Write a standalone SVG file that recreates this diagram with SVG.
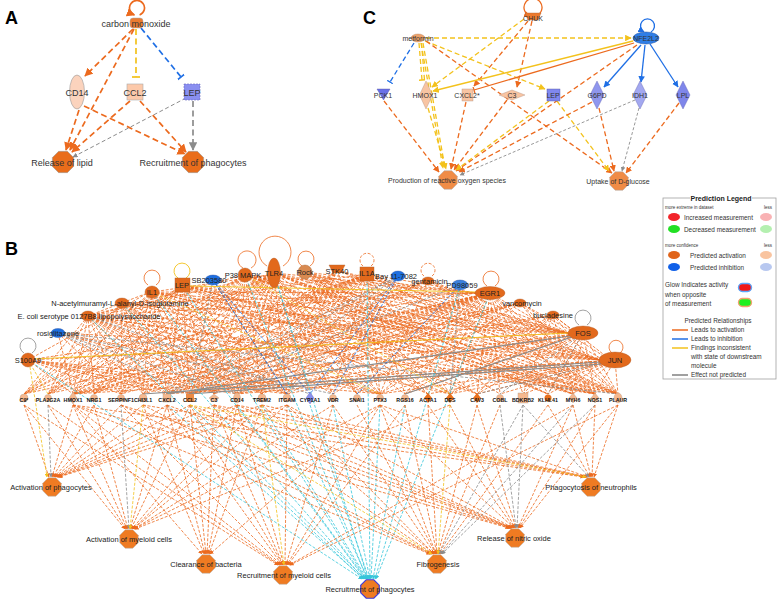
<svg xmlns="http://www.w3.org/2000/svg" xmlns:xlink="http://www.w3.org/1999/xlink" width="778" height="600" viewBox="0 0 778 600">
<style>
text{font-family:"Liberation Sans",Arial,sans-serif;fill:#222}
.e,.e path{fill:none}
.o{stroke:#ec6a1e}.g{stroke:#8c8c8c}.y{stroke:#f3c21c}.b{stroke:#1f6fe5}.c{stroke:#36c6da}
.d{stroke-dasharray:3 1.6}.w{stroke-width:0.8}
.A{stroke-width:1.7;stroke-dasharray:6 3.5}
.C{stroke-width:1.3;stroke-dasharray:5 3}
.mo{marker-end:url(#ao)}.mg{marker-end:url(#ag)}.my{marker-end:url(#ay)}.mb{marker-end:url(#ab)}.mc{marker-end:url(#ac)}
.xo{marker-end:url(#bo)}.xy{marker-end:url(#by)}.xb{marker-end:url(#bb)}
.big{font-size:18px;font-weight:bold;fill:#000}
.la{font-size:9px;fill:#333;text-anchor:middle}
.lc{font-size:7px;fill:#333;text-anchor:middle}
.lb{font-size:7.5px;text-anchor:middle}
.lm{font-size:5.3px;font-weight:bold;fill:#111;text-anchor:middle}
.lg{font-size:6.4px;fill:#333}
.ls{font-size:4.5px;fill:#333}
.fn{fill:#ef7b22;stroke:#b0b0b0;stroke-width:0.5}
.nd{fill:#e2691c;stroke:#b06030;stroke-width:0.4}
.pe{fill:#f6b88e;stroke:#b0a090;stroke-width:0.4}
.bl{fill:#1d6fe0;stroke:#3050a0;stroke-width:0.4}
.lb2{fill:#8a90ee;stroke:#7070b0;stroke-width:0.4}
</style>
<defs>
<marker id="ao" viewBox="0 0 10 10" refX="9" refY="5" markerWidth="5" markerHeight="5" orient="auto"><path d="M0 0L10 5L0 10z" fill="#ec6a1e"/></marker>
<marker id="ag" viewBox="0 0 10 10" refX="9" refY="5" markerWidth="5" markerHeight="5" orient="auto"><path d="M0 0L10 5L0 10z" fill="#8c8c8c"/></marker>
<marker id="ay" viewBox="0 0 10 10" refX="9" refY="5" markerWidth="5" markerHeight="5" orient="auto"><path d="M0 0L10 5L0 10z" fill="#f3c21c"/></marker>
<marker id="ab" viewBox="0 0 10 10" refX="9" refY="5" markerWidth="5" markerHeight="5" orient="auto"><path d="M0 0L10 5L0 10z" fill="#1f6fe5"/></marker>
<marker id="ac" viewBox="0 0 10 10" refX="9" refY="5" markerWidth="5" markerHeight="5" orient="auto"><path d="M0 0L10 5L0 10z" fill="#36c6da"/></marker>
<marker id="bo" viewBox="0 0 4 10" refX="3" refY="5" markerWidth="2.5" markerHeight="5" orient="auto"><path d="M3 0V10" stroke="#ec6a1e" stroke-width="2"/></marker>
<marker id="by" viewBox="0 0 4 10" refX="3" refY="5" markerWidth="2.5" markerHeight="5" orient="auto"><path d="M3 0V10" stroke="#f3c21c" stroke-width="2"/></marker>
<marker id="bb" viewBox="0 0 4 10" refX="3" refY="5" markerWidth="2.5" markerHeight="5" orient="auto"><path d="M3 0V10" stroke="#1f6fe5" stroke-width="2"/></marker>
<polygon id="oct" points="9.24,3.83 3.83,9.24 -3.83,9.24 -9.24,3.83 -9.24,-3.83 -3.83,-9.24 3.83,-9.24 9.24,-3.83"/>
</defs>
<rect width="778" height="600" fill="#fff"/>

<text class="big" x="5" y="24">A</text>
<text class="big" x="363" y="24">C</text>
<text class="big" x="5" y="255">B</text>

<!-- ================= PANEL A ================= -->
<g id="A-connectors" class="e">
<path class="o A mo" d="M133 29L85 76"/>
<path class="o A mo" d="M134 29L70 150"/>
<path class="o A mo" d="M79 110L66 150"/>
<path class="o A mo" d="M84 106L185 154"/>
<path class="o A mo" d="M130 101L72 152"/>
<path class="o A mo" d="M140 101L186 152"/>
<path class="y A xy" d="M136 29L136 77"/>
<path class="b A xb" d="M141 28L181 77"/>
<path class="g mg" stroke-width="1" stroke-dasharray="4 2.5" d="M186 98L73 157"/>
<path class="g A mg" stroke-width="1.3" d="M193 101L193 150"/>
<path class="o mo" stroke-width="1.7" d="M139.6 15A7.5 7.5 0 1 0 134.4 15"/>
</g>
<g id="A-carbon-monoxide"><rect x="130" y="18" width="13" height="10" rx="3" fill="#ea7b30" stroke="#aaa" stroke-width="0.5"/><text class="la" x="136" y="26.5">carbon monoxide</text></g>
<g id="A-CD14"><ellipse cx="77" cy="92" rx="7.5" ry="17" fill="#fbd3bd" stroke="#999" stroke-width="0.6"/><text class="la" x="77" y="95.5">CD14</text></g>
<g id="A-CCL2"><rect x="127" y="84" width="16" height="16" fill="#fcc9aa" stroke="#aaa" stroke-width="0.6"/><text class="la" x="135" y="95.5">CCL2</text></g>
<g id="A-LEP"><rect x="184" y="84" width="16" height="16" fill="#8a8ff0" stroke="#6a6ac0" stroke-width="0.6" stroke-dasharray="2 1"/><text class="la" x="192" y="95.5">LEP</text></g>
<g id="A-release-lipid"><use href="#oct" transform="translate(63 162) scale(1.15)" fill="#e96d1b" stroke="#999" stroke-width="0.5"/><text class="la" x="62" y="166">Release of lipid</text></g>
<g id="A-recruitment-phagocytes"><use href="#oct" transform="translate(193 162) scale(1.15)" fill="#e96d1b" stroke="#999" stroke-width="0.5"/><text class="la" x="193" y="166">Recruitment of phagocytes</text></g>

<!-- ================= PANEL C ================= -->
<g id="C-connectors" class="e">
<path class="o C mo" d="M528 21L474 86"/>
<path class="o C mo" d="M532 21L517 87"/>
<path class="y C my" d="M524 19L432 87"/>
<path class="y C my" d="M426 38L631 38"/>
<path class="b C xb" d="M414 43L390 82"/>
<path class="y C xy" d="M419 43L422 80"/>
<path class="y C" d="M421.5 43L424.5 80"/>
<path class="y C my" d="M421 43L443 168"/>
<path class="y C" d="M423 43L445 168"/>
<path class="y C my" d="M425 41L545 89"/>
<path class="o C mo" d="M426 41L612 173"/>
<path class="y" stroke-width="1.3" d="M633 41L433 91" marker-end="url(#ay)"/>
<path class="o xo" stroke-width="1.3" d="M634 43L474 90"/>
<path class="o C mo" d="M637 45L456 171"/>
<path class="b mb" stroke-width="1.3" d="M641 45L604 87"/>
<path class="b mb" stroke-width="1.3" d="M645 45L641 82"/>
<path class="b mb" stroke-width="1.3" d="M650 44L678 87"/>
<path class="o C mo" d="M384 101L439 172"/>
<path class="y C my" d="M428 108L446 169"/>
<path class="o C mo" d="M466 102L451 169"/>
<path class="o C mo" d="M507 100L454 170"/>
<path class="y C my" d="M549 101L456 170"/>
<path class="y C my" d="M557 101L609 171"/>
<path class="o C mo" d="M592 102L459 172"/>
<path class="o C mo" d="M599 108L614 171"/>
<path class="g mg" stroke-width="0.9" stroke-dasharray="3 2" d="M635 100L460 175"/>
<path class="g mg" stroke-width="0.9" stroke-dasharray="3 2" d="M639 108L622 171"/>
<path class="o C mo" d="M679 103L626 173"/>
<path class="o mo" stroke-width="1.3" d="M536 16A9 9 0 1 0 530 16"/>
<path class="b mb" stroke-width="1.3" d="M651 32A7 7 0 1 0 644 32"/>
</g>
<g id="C-CHUK"><path d="M525 13H541L538 20H528Z" fill="#ec7a2e" stroke="#b06030" stroke-width="0.4"/><text class="lc" x="533" y="21">CHUK</text></g>
<g id="C-metformin"><ellipse cx="418" cy="38" rx="7" ry="4" fill="#eea26a" stroke="#b08060" stroke-width="0.4"/><text class="lc" x="418" y="40.5">metformin</text></g>
<g id="C-NFE2L2"><ellipse cx="646" cy="38" rx="13" ry="6" fill="#2f7ee6" stroke="#2050a0" stroke-width="0.5"/><text class="lc" x="646" y="40.5">NFE2L2</text></g>
<g id="C-PCK1"><path d="M377 89H390L383.5 100Z" fill="#6a70e8" stroke="#5050a0" stroke-width="0.4"/><text class="lc" x="383" y="97.5">PCK1</text></g>
<g id="C-HMOX1"><path d="M426 81L432.5 95L426 109L419.5 95Z" fill="#f8c4a2" stroke="#b09080" stroke-width="0.4"/><text class="lc" x="425" y="97.5">HMOX1</text></g>
<g id="C-CXCL2"><rect x="462" y="89" width="11" height="12" fill="#f8c4a2" stroke="#b09080" stroke-width="0.4"/><text class="lc" x="467" y="97.5">CXCL2*</text></g>
<g id="C-C3"><path d="M499 95L512 90L525 95L512 100Z" fill="#f8c4a2" stroke="#b09080" stroke-width="0.4"/><text class="lc" x="512" y="97.5">C3</text></g>
<g id="C-LEP"><rect x="547" y="89" width="13" height="12" fill="#8088ee" stroke="#5050a0" stroke-width="0.4"/><text class="lc" x="553" y="97.5">LEP</text></g>
<g id="C-G6PD"><path d="M597 81L604 95L597 109L590 95Z" fill="#8f96ee" stroke="#6060b0" stroke-width="0.4"/><text class="lc" x="597" y="97.5">G6PD</text></g>
<g id="C-IDH1"><path d="M640 81L647 95L640 109L633 95Z" fill="#a3a8f0" stroke="#6060b0" stroke-width="0.4"/><text class="lc" x="640" y="97.5">IDH1</text></g>
<g id="C-LPL"><path d="M683 81L690 95L683 109L676 95Z" fill="#7f86ea" stroke="#6060b0" stroke-width="0.4"/><text class="lc" x="683" y="97.5">LPL</text></g>
<g id="C-ROS"><use href="#oct" x="448" y="180" fill="#f08c46" stroke="#aaa" stroke-width="0.5"/><text class="lc" x="447" y="183">Production of reactive oxygen species</text></g>
<g id="C-glucose"><use href="#oct" x="619" y="181" fill="#f08c46" stroke="#aaa" stroke-width="0.5"/><text class="lc" x="618" y="184">Uptake of D-glucose</text></g>

<!-- ================= LEGEND ================= -->
<g id="legend">
<rect x="663" y="198" width="113" height="181" fill="#fff" stroke="#a0a0a0" stroke-width="0.8"/>
<rect x="690" y="194" width="62" height="8" fill="#fff"/>
<text x="721" y="200.5" font-size="7" font-weight="bold" text-anchor="middle">Prediction Legend</text>
<text class="ls" x="665" y="209">more extreme in dataset</text><text class="ls" x="764" y="209">less</text>
<ellipse cx="674" cy="217" rx="6" ry="4" fill="#f2242a"/><text class="lg" x="684" y="219.5">Increased measurement</text><ellipse cx="766" cy="217" rx="6" ry="4" fill="#f9b2b4"/>
<ellipse cx="674" cy="229" rx="6" ry="4" fill="#22e024"/><text class="lg" x="684" y="231.5">Decreased measurement</text><ellipse cx="766" cy="229" rx="6" ry="4" fill="#b4f0b0"/>
<text class="ls" x="665" y="247">more confidence</text><text class="ls" x="764" y="247">less</text>
<ellipse cx="674" cy="255" rx="6" ry="4" fill="#e0641a"/><text class="lg" x="690" y="257.5">Predicted activation</text><ellipse cx="766" cy="255" rx="6" ry="4" fill="#f9c4a0"/>
<ellipse cx="674" cy="267" rx="6" ry="4" fill="#1060e8"/><text class="lg" x="690" y="269.5">Predicted inhibition</text><ellipse cx="766" cy="267" rx="6" ry="4" fill="#b8c8f0"/>
<text class="lg" x="665" y="287">Glow Indicates activity</text>
<text class="lg" x="665" y="296.5">when opposite</text>
<text class="lg" x="665" y="306">of measurement</text>
<rect x="738.5" y="283.5" width="13" height="8" rx="4" fill="#f01818" stroke="#5aa8ff" stroke-width="1.4"/>
<rect x="738.5" y="298.5" width="13" height="8" rx="4" fill="#20f020" stroke="#f5a070" stroke-width="1.4"/>
<text class="lg" x="718" y="323" text-anchor="middle">Predicted Relationships</text>
<path d="M672 330H688" stroke="#ec6a1e" stroke-width="1.5"/><text class="lg" x="691" y="332">Leads to activation</text>
<path d="M672 339H688" stroke="#1f6fe5" stroke-width="1.5"/><text class="lg" x="691" y="341">Leads to inhibition</text>
<path d="M672 348H688" stroke="#f3c21c" stroke-width="1.5"/><text class="lg" x="691" y="350">Findings inconsistent</text>
<text class="lg" x="691" y="359">with state of downstream</text>
<text class="lg" x="691" y="368">molecule</text>
<path d="M672 375H688" stroke="#808080" stroke-width="1.5"/><text class="lg" x="691" y="377">Effect not predicted</text>
</g>

<!-- ================= PANEL B ================= -->
<g id="B-connectors" class="e">
<g class="o d w">
<path d="M28 360L73 394M28 360L167 394M28 360L190 394M28 360L237 394M28 360L287 394M28 360L121 394M28 360L380 394"/>
<path d="M58 333L73 394M58 333L121 394M58 333L167 394M58 333L287 394M58 333L380 394"/>
<path d="M88 316L24 394M88 316L48 394M88 316L73 394M88 316L94 394M88 316L121 394M88 316L143 394M88 316L167 394M88 316L190 394M88 316L214 394M88 316L237 394M88 316L262 394M88 316L287 394M88 316L380 394M88 316L450 394M88 316L595 394M88 316L618 394"/>
<path d="M122 303L73 394M122 303L167 394M122 303L190 394M122 303L237 394M122 303L262 394M122 303L287 394M122 303L24 394M122 303L48 394M122 303L121 394M122 303L143 394M122 303L214 394M122 303L380 394M122 303L595 394"/>
<path d="M152 292L24 394M152 292L48 394M152 292L73 394M152 292L143 394M152 292L167 394M152 292L190 394M152 292L214 394M152 292L237 394M152 292L595 394M152 292L618 394M152 292L94 394M152 292L121 394M152 292L262 394M152 292L287 394M152 292L333 394M152 292L450 394"/>
<path d="M182 285L73 394M182 285L94 394M182 285L121 394M182 285L190 394M182 285L237 394M182 285L262 394M182 285L287 394M182 285L428 394M182 285L477 394M182 285L573 394M182 285L24 394M182 285L48 394M182 285L167 394M182 285L214 394M182 285L380 394M182 285L595 394M182 285L618 394"/>
<path d="M245 275L73 394M245 275L94 394M245 275L143 394M245 275L167 394M245 275L190 394M245 275L214 394M245 275L237 394M245 275L262 394M245 275L357 394M245 275L380 394M245 275L548 394M245 275L595 394M245 275L618 394M245 275L24 394M245 275L48 394M245 275L121 394M245 275L287 394M245 275L333 394M245 275L405 394M245 275L428 394M245 275L477 394M245 275L573 394"/>
<path d="M274 273L24 394M274 273L48 394M274 273L73 394M274 273L121 394M274 273L143 394M274 273L167 394M274 273L190 394M274 273L214 394M274 273L237 394M274 273L262 394M274 273L287 394M274 273L333 394M274 273L380 394M274 273L573 394M274 273L595 394M274 273L618 394M274 273L94 394M274 273L357 394M274 273L450 394M274 273L548 394"/>
<path d="M305 272L357 394M305 272L428 394M305 272L450 394M305 272L477 394M305 272L500 394M305 272L548 394M305 272L573 394M305 272L190 394M305 272L618 394"/>
<path d="M337 270L167 394M337 270L190 394M337 270L214 394M337 270L237 394M337 270L262 394M337 270L287 394M337 270L380 394M337 270L618 394"/>
<path d="M367 274L48 394M367 274L73 394M367 274L121 394M367 274L167 394M367 274L190 394M367 274L214 394M367 274L237 394M367 274L287 394M367 274L380 394M367 274L595 394M367 274L618 394M367 274L24 394M367 274L94 394M367 274L143 394M367 274L262 394M367 274L333 394M367 274L405 394M367 274L450 394"/>
<path d="M428 280L190 394M428 280L595 394M428 280L73 394M428 280L167 394M428 280L237 394M428 280L618 394M428 280L380 394M520 303L190 394M520 303L595 394M520 303L73 394M520 303L167 394M520 303L237 394M520 303L380 394M520 303L618 394M553 315L477 394M553 315L573 394M553 315L405 394M553 315L450 394M553 315L523 394M553 315L618 394M553 315L190 394M553 315L73 394"/>
<path d="M490 293L73 394M490 293L121 394M490 293L167 394M490 293L190 394M490 293L237 394M490 293L262 394M490 293L287 394M490 293L333 394M490 293L357 394M490 293L380 394M490 293L405 394M490 293L428 394M490 293L450 394M490 293L477 394M490 293L500 394M490 293L523 394M490 293L548 394M490 293L573 394M490 293L595 394M490 293L618 394M490 293L24 394M490 293L48 394M490 293L143 394M490 293L214 394"/>
<path d="M583 333L405 394M583 333L450 394M583 333L477 394M583 333L523 394M583 333L548 394M583 333L573 394M583 333L595 394M583 333L618 394M583 333L73 394M583 333L190 394M583 333L237 394M583 333L287 394M583 333L380 394"/>
<path d="M615 360L450 394M615 360L477 394M615 360L500 394M615 360L523 394M615 360L548 394M615 360L573 394M615 360L595 394M615 360L618 394M615 360L73 394M615 360L167 394M615 360L237 394M615 360L380 394M615 360L428 394"/>
<path d="M88 316L476 293M88 316L568 333M88 316L600 360M88 316L268 275M88 316L145 294M88 316L360 275M152 292L568 333M152 292L600 360M152 292L476 293M245 275L476 293M245 275L568 333M245 275L600 360M274 273L476 293M274 273L568 333M274 273L600 360M367 274L476 293M367 274L568 333M367 274L600 360M428 280L568 333M520 303L570 330M520 303L602 355M553 315L570 328M553 315L603 354M305 272L568 333M305 272L600 360M337 270L600 360M28 360L476 293M122 303L568 333M490 293L600 358M28 360L146 294M122 303L476 293M122 303L600 360M182 285L568 333M182 285L600 360M337 270L568 333M305 272L476 293M428 280L600 360M88 316L240 276M152 292L268 275M58 333L600 360M28 360L568 333"/>
</g>
<path class="o" stroke-width="0.8" d="M156 285A8 8 0 1 0 148 285M251 268A9 9 0 1 0 243 268M283 266A16 16 0 1 0 267 266M310 266A8 8 0 1 0 302 266M495 286A8 8 0 1 0 487 286M620 353A7 7 0 1 0 612 353"/>
<path class="o d" stroke-width="0.8" d="M371 266A7 7 0 1 0 363 266M432 276A7 7 0 1 0 424 276"/>
<g class="g d w">
<path d="M58 333L190 394M58 333L237 394M58 333L333 394M58 333L618 394M213 280L190 394M213 280L287 394M460 285L190 394M460 285L450 394M398 276L167 394M398 276L237 394M88 316L310 394M274 273L310 394M583 333L500 394M583 333L548 394M615 360L477 394M398 276L190 394M398 276L287 394"/>
</g>
<path class="g" stroke-width="0.8" d="M32 353A8 8 0 1 0 24 353M587 325A8 8 0 1 0 579 325"/>
<path class="g" stroke-width="1.2" d="M570 336L167 394M600 362L143 394M572 337L405 394M601 364L190 394"/>
<path class="b d w" d="M213 280L310 394M213 280L287 394M398 276L310 394M398 276L333 394M460 285L357 394"/>
<path class="y" stroke-width="0.9" d="M34 359L568 333M190 286L476 292M186 278A8 8 0 1 0 178 278"/>
<path class="y d w" d="M28 360L48 394M152 292L380 394M245 275L450 394"/>
<g class="c d w mc">
<path d="M28 360L362 579"/><path d="M88 316L363 579"/><path d="M122 303L364 579"/><path d="M152 292L365 579"/><path d="M182 285L366 579"/><path d="M245 275L367 579"/><path d="M274 273L368 579"/><path d="M367 274L370 579"/><path d="M460 285L375 579"/><path d="M490 293L376 579"/>
<path d="M167 405L364 579"/><path d="M190 405L365 579"/><path d="M237 405L366 579"/><path d="M262 405L367 579"/><path d="M287 405L368 579"/><path d="M310 405L369 579"/><path d="M333 405L370 579"/><path d="M380 405L371 579"/><path d="M405 405L373 579"/>
</g>
<g class="o d w mo">
<path d="M24 405L49 477"/><path d="M73 405L52 477"/><path d="M94 405L53 477"/><path d="M121 405L54 477"/><path d="M143 405L55 477"/><path d="M167 405L56 477"/><path d="M190 405L57 477"/><path d="M214 405L57 477"/><path d="M237 405L58 477"/><path d="M262 405L58 477"/><path d="M287 405L59 477"/>
<path d="M24 405L125 529"/><path d="M48 405L126 529"/><path d="M73 405L127 529"/><path d="M94 405L128 529"/><path d="M167 405L130 529"/><path d="M190 405L131 529"/><path d="M237 405L132 529"/><path d="M262 405L133 529"/><path d="M287 405L133 529"/><path d="M333 405L134 529"/><path d="M380 405L134 529"/><path d="M450 405L135 529"/>
<path d="M73 405L202 554"/><path d="M143 405L204 554"/><path d="M167 405L205 554"/><path d="M190 405L206 554"/><path d="M214 405L207 554"/><path d="M237 405L208 554"/><path d="M262 405L209 554"/><path d="M380 405L210 554"/>
<path d="M24 405L278 565"/><path d="M48 405L279 565"/><path d="M73 405L280 565"/><path d="M121 405L281 565"/><path d="M167 405L282 565"/><path d="M190 405L283 565"/><path d="M214 405L283 565"/><path d="M237 405L284 565"/><path d="M287 405L285 565"/><path d="M333 405L286 565"/><path d="M380 405L287 565"/><path d="M405 405L288 565"/><path d="M573 405L289 565"/><path d="M618 405L290 565"/>
<path d="M73 405L430 554"/><path d="M121 405L431 554"/><path d="M143 405L432 554"/><path d="M214 405L433 554"/><path d="M262 405L434 554"/><path d="M287 405L434 554"/><path d="M333 405L435 554"/><path d="M357 405L436 554"/><path d="M380 405L436 554"/><path d="M405 405L437 554"/><path d="M428 405L437 554"/><path d="M477 405L438 554"/><path d="M500 405L439 554"/><path d="M548 405L440 554"/>
<path d="M73 405L509 528"/><path d="M121 405L510 528"/><path d="M167 405L511 528"/><path d="M190 405L511 528"/><path d="M214 405L512 528"/><path d="M237 405L512 528"/><path d="M287 405L513 528"/><path d="M380 405L514 528"/><path d="M428 405L514 528"/><path d="M450 405L515 528"/><path d="M477 405L516 528"/><path d="M573 405L518 528"/><path d="M595 405L519 528"/><path d="M618 405L520 528"/>
<path d="M73 405L584 477"/><path d="M143 405L585 477"/><path d="M214 405L586 477"/><path d="M237 405L586 477"/><path d="M262 405L587 477"/><path d="M380 405L588 477"/><path d="M548 405L590 477"/><path d="M573 405L591 477"/><path d="M595 405L592 477"/><path d="M618 405L594 477"/>
</g>
<g class="g d w mg">
<path d="M48 405L51 477"/><path d="M121 405L129 529"/><path d="M523 405L439 554"/><path d="M573 405L441 554"/><path d="M595 405L442 554"/><path d="M500 405L516 528"/><path d="M523 405L517 528"/><path d="M523 405L589 477"/>
</g>
<g class="y d w my">
<path d="M30 367L47 477"/><path d="M143 405L130 529"/><path d="M262 405L284 565"/><path d="M450 405L438 554"/><path d="M190 405L432 554"/><path d="M190 405L586 477"/>
</g>
</g>

<g id="B-S100A9"><circle cx="28" cy="360" r="7" class="nd"/><text class="lb" x="28" y="363">S100A9</text></g>
<g id="B-rosiglitazone"><ellipse cx="58" cy="333" rx="7" ry="4.5" class="bl"/><text class="lb" x="58" y="335.5">rosiglitazone</text></g>
<g id="B-ecoli-lps"><ellipse cx="88" cy="316" rx="7" ry="5" class="nd"/><text class="lb" x="89" y="318.5">E. coli serotype 0127B8 lipopolysaccharide</text></g>
<g id="B-n-acetyl"><ellipse cx="122" cy="303" rx="7" ry="5" class="nd"/><text class="lb" x="120" y="305.5">N-acetylmuramyl-L-alanyl-D-isoglutamine</text></g>
<g id="B-IL1"><ellipse cx="152" cy="292" rx="7" ry="6" class="nd"/><text class="lb" x="152" y="295">IL1</text></g>
<g id="B-LEP"><rect x="175" y="278" width="15" height="14" class="nd"/><text class="lb" x="182" y="288">LEP</text></g>
<g id="B-SB203580"><ellipse cx="213" cy="280" rx="8" ry="5" class="bl"/><text class="lb" x="209" y="282.5">SB203580</text></g>
<g id="B-P38MAPK"><circle cx="245" cy="275" r="7" class="nd"/><text class="lb" x="243" y="278">P38 MAPK</text></g>
<g id="B-TLR4"><ellipse cx="274" cy="273" rx="6.5" ry="15" class="nd"/><text class="lb" x="274" y="276">TLR4</text></g>
<g id="B-Rock"><circle cx="305" cy="272" r="7" fill="#d98a50" stroke="#a06030" stroke-width="0.4"/><text class="lb" x="305" y="275">Rock</text></g>
<g id="B-STK40"><path d="M329 265H345L341 273H333Z" class="nd"/><text class="lb" x="337" y="274">STK40</text></g>
<g id="B-IL1A"><rect x="360" y="267" width="14" height="14" class="nd"/><text class="lb" x="367" y="276">IL1A</text></g>
<g id="B-Bay"><ellipse cx="398" cy="276" rx="7" ry="5" class="bl"/><text class="lb" x="396" y="279" font-size="6.5">Bay 11-7082</text></g>
<g id="B-gentamicin"><ellipse cx="428" cy="281" rx="6" ry="4" class="nd"/><text class="lb" x="429.5" y="283.5" font-size="6.5">gentamicin</text></g>
<g id="B-PD98059"><ellipse cx="460" cy="285" rx="8" ry="5" fill="#3a80dc" stroke="#3050a0" stroke-width="0.4"/><text class="lb" x="462" y="288" font-size="7">PD98059</text></g>
<g id="B-EGR1"><ellipse cx="490" cy="293" rx="15" ry="6.5" class="nd"/><text class="lb" x="490" y="296">EGR1</text></g>
<g id="B-vancomycin"><ellipse cx="520" cy="303" rx="6" ry="4" class="nd"/><text class="lb" x="522" y="305.5">vancomycin</text></g>
<g id="B-bucladesine"><ellipse cx="553" cy="315" rx="6" ry="4" class="nd"/><text class="lb" x="553" y="318">bucladesine</text></g>
<g id="B-FOS"><ellipse cx="583" cy="333" rx="15" ry="7" class="nd"/><text class="lb" x="583" y="336">FOS</text></g>
<g id="B-JUN"><ellipse cx="615" cy="360" rx="16" ry="8" class="nd"/><text class="lb" x="615" y="363">JUN</text></g>

<g id="B-C9"><circle cx="24" cy="398" r="4" class="pe"/><text class="lm" x="24" y="402">C9*</text></g>
<g id="B-PLA2G2A"><circle cx="48" cy="398" r="3.5" class="pe"/><text class="lm" x="48" y="402">PLA2G2A</text></g>
<g id="B-HMOX1"><path d="M73 392L77 398L73 404L69 398Z" class="pe"/><text class="lm" x="73" y="402">HMOX1</text></g>
<g id="B-NRG1"><circle cx="94" cy="398" r="3.5" class="pe"/><text class="lm" x="94" y="402">NRG1</text></g>
<g id="B-SERPINF1"><circle cx="121" cy="398" r="3.5" class="pe"/><text class="lm" x="121" y="402">SERPINF1</text></g>
<g id="B-CHI3L1"><circle cx="143" cy="398" r="4" class="pe"/><text class="lm" x="143" y="402">CHI3L1</text></g>
<g id="B-CXCL2"><rect x="163" y="394" width="8" height="8" class="pe"/><text class="lm" x="167" y="402">CXCL2</text></g>
<g id="B-CCL2"><rect x="186" y="394" width="8" height="8" fill="#ec8a44"/><text class="lm" x="190" y="402">CCL2</text></g>
<g id="B-C3"><path d="M214 394L219 398L214 402L209 398Z" class="pe"/><text class="lm" x="214" y="402">C3</text></g>
<g id="B-CD14"><ellipse cx="237" cy="398" rx="3.5" ry="5" class="pe"/><text class="lm" x="237" y="402">CD14</text></g>
<g id="B-TREM2"><circle cx="262" cy="398" r="4" class="pe"/><text class="lm" x="262" y="402">TREM2</text></g>
<g id="B-ITGAM"><circle cx="287" cy="398" r="4" class="pe"/><text class="lm" x="287" y="402">ITGAM</text></g>
<g id="B-CYP1A1"><path d="M310 392L314 398L310 404L306 398Z" class="lb2"/><text class="lm" x="310" y="402">CYP1A1</text></g>
<g id="B-VDR"><circle cx="333" cy="398" r="3.5" class="pe"/><text class="lm" x="333" y="402">VDR</text></g>
<g id="B-SNAI1"><circle cx="357" cy="398" r="3.5" class="pe"/><text class="lm" x="357" y="402">SNAI1</text></g>
<g id="B-PTX3"><circle cx="380" cy="398" r="3.5" class="pe"/><text class="lm" x="380" y="402">PTX3</text></g>
<g id="B-RGS16"><circle cx="405" cy="398" r="3.5" class="pe"/><text class="lm" x="405" y="402">RGS16</text></g>
<g id="B-ACTA1"><path d="M428 393L432 398L428 403L424 398Z" fill="#e8701e"/><text class="lm" x="428" y="402">ACTA1</text></g>
<g id="B-DES"><path d="M450 393L454 398L450 403L446 398Z" fill="#e8701e"/><text class="lm" x="450" y="402">DES</text></g>
<g id="B-CAV3"><path d="M477 393L481 398L477 403L473 398Z" fill="#e8701e"/><text class="lm" x="477" y="402">CAV3</text></g>
<g id="B-COBL"><circle cx="500" cy="398" r="3.5" class="pe"/><text class="lm" x="500" y="402">COBL</text></g>
<g id="B-BDKRB2"><rect x="518" y="393" width="10" height="10" class="pe"/><text class="lm" x="523" y="402">BDKRB2</text></g>
<g id="B-KLHL41"><circle cx="548" cy="398" r="3.5" fill="#e8701e"/><text class="lm" x="548" y="402">KLHL41</text></g>
<g id="B-MYH6"><path d="M573 393L577 398L573 403L569 398Z" class="pe"/><text class="lm" x="573" y="402">MYH6</text></g>
<g id="B-NOS1"><path d="M595 393L599 398L595 403L591 398Z" class="pe"/><text class="lm" x="595" y="402">NOS1</text></g>
<g id="B-PLAUR"><ellipse cx="618" cy="398" rx="4" ry="5" class="pe"/><text class="lm" x="618" y="402">PLAUR</text></g>

<g id="B-activation-phagocytes"><use href="#oct" x="52" y="487" class="fn"/><text class="lb" x="51" y="490">Activation of phagocytes</text></g>
<g id="B-activation-myeloid"><use href="#oct" x="129" y="539" class="fn"/><text class="lb" x="129" y="542">Activation of myeloid cells</text></g>
<g id="B-clearance-bacteria"><use href="#oct" x="206" y="564" class="fn"/><text class="lb" x="206" y="567">Clearance of bacteria</text></g>
<g id="B-recruitment-myeloid"><use href="#oct" x="283" y="575" class="fn"/><text class="lb" x="284" y="578">Recruitment of myeloid cells</text></g>
<g id="B-recruitment-phagocytes"><use href="#oct" x="370" y="589" fill="#ef7b22" stroke="#3a3ae0" stroke-width="1.2"/><text class="lb" x="370" y="592">Recruitment of phagocytes</text></g>
<g id="B-fibrogenesis"><use href="#oct" x="437" y="564" class="fn"/><text class="lb" x="438" y="567">Fibrogenesis</text></g>
<g id="B-release-nitric-oxide"><use href="#oct" x="515" y="538" class="fn"/><text class="lb" x="514" y="541">Release of nitric oxide</text></g>
<g id="B-phagocytosis-neutrophils"><use href="#oct" x="591" y="487" class="fn"/><text class="lb" x="591" y="490">Phagocytosis of neutrophils</text></g>
</svg>
